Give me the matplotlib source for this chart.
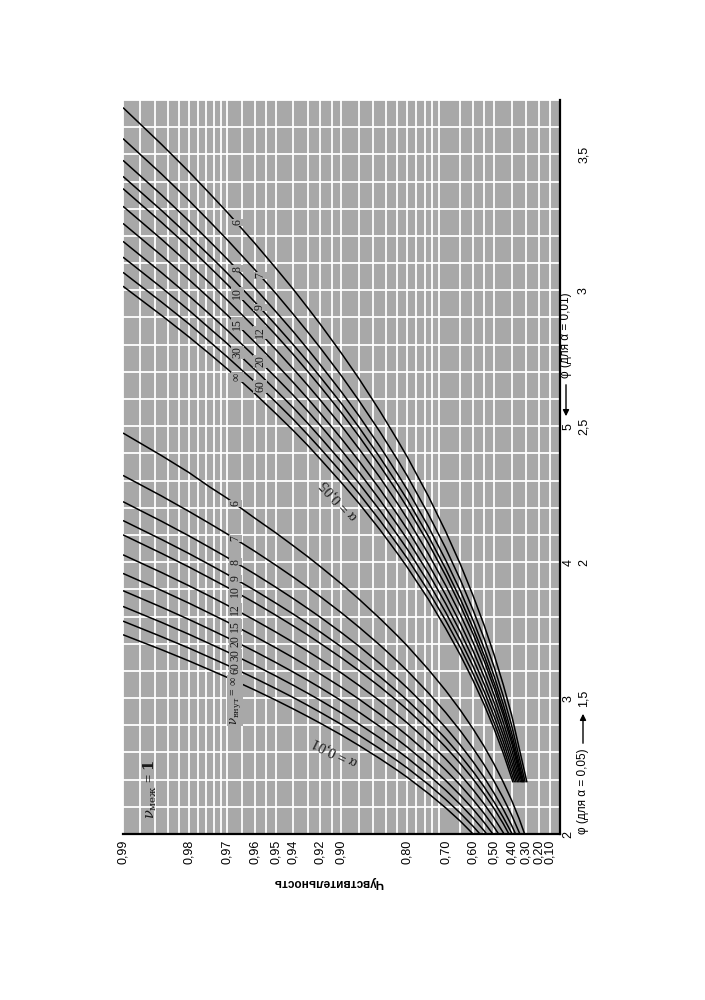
import numpy as np
import matplotlib
matplotlib.use("Agg")
import matplotlib.pyplot as plt

# ---------------- data ----------------
NU2_LABELS = ["6", "7", "8", "9", "10", "12", "15", "20", "30", "60", "∞"]

# alpha = 0.05 : phi (alpha=0.05 scale) at the given power levels
P_LEVELS_05 = [0.99, 0.985, 0.98, 0.975, 0.97, 0.96, 0.95, 0.94, 0.93, 0.92, 0.90,
               0.88, 0.85, 0.82, 0.80, 0.75, 0.70, 0.65, 0.60, 0.55, 0.50, 0.45, 0.40]
phi05_6 = [3.672, 3.537, 3.437, 3.355, 3.287, 3.174, 3.082, 3.005, 2.936, 2.875, 2.768, 2.676,
           2.555, 2.450, 2.387, 2.242, 2.112, 1.992, 1.877, 1.767, 1.658, 1.549, 1.439]
phi05_7 = [3.558, 3.428, 3.331, 3.252, 3.186, 3.077, 2.989, 2.913, 2.847, 2.788, 2.685, 2.595,
           2.479, 2.378, 2.317, 2.176, 2.051, 1.935, 1.824, 1.718, 1.613, 1.507, 1.401]
phi05_8 = [3.478, 3.351, 3.256, 3.179, 3.115, 3.009, 2.922, 2.849, 2.784, 2.726, 2.626, 2.539,
           2.425, 2.326, 2.267, 2.130, 2.007, 1.894, 1.786, 1.682, 1.580, 1.477, 1.373]
phi05_9 = [3.419, 3.294, 3.201, 3.126, 3.063, 2.958, 2.873, 2.801, 2.738, 2.681, 2.583, 2.497,
           2.385, 2.288, 2.230, 2.095, 1.975, 1.864, 1.758, 1.656, 1.555, 1.454, 1.352]
phi05_10 = [3.374, 3.250, 3.159, 3.084, 3.022, 2.919, 2.836, 2.765, 2.702, 2.646, 2.549, 2.464,
            2.354, 2.259, 2.201, 2.069, 1.950, 1.840, 1.736, 1.636, 1.536, 1.437, 1.336]
phi05_12 = [3.309, 3.188, 3.098, 3.026, 2.964, 2.864, 2.782, 2.712, 2.651, 2.596, 2.501, 2.418,
            2.311, 2.217, 2.160, 2.030, 1.914, 1.807, 1.705, 1.606, 1.509, 1.411, 1.313]
phi05_15 = [3.246, 3.128, 3.040, 2.969, 2.909, 2.810, 2.730, 2.662, 2.602, 2.548, 2.454, 2.373,
            2.268, 2.176, 2.121, 1.993, 1.879, 1.774, 1.674, 1.577, 1.482, 1.386, 1.290]
phi05_20 = [3.180, 3.065, 2.980, 2.911, 2.853, 2.757, 2.680, 2.615, 2.556, 2.503, 2.411, 2.332,
            2.228, 2.138, 2.084, 1.959, 1.847, 1.743, 1.645, 1.550, 1.457, 1.363, 1.268]
phi05_30 = [3.122, 3.010, 2.927, 2.859, 2.804, 2.709, 2.633, 2.569, 2.511, 2.459, 2.369, 2.291,
            2.190, 2.101, 2.048, 1.925, 1.815, 1.713, 1.617, 1.524, 1.432, 1.340, 1.247]
phi05_60 = [3.066, 2.957, 2.877, 2.810, 2.755, 2.664, 2.589, 2.526, 2.469, 2.418, 2.330, 2.253,
            2.153, 2.066, 2.014, 1.893, 1.785, 1.685, 1.590, 1.499, 1.408, 1.318, 1.226]
phi05_inf = [3.015, 2.908, 2.829, 2.765, 2.711, 2.621, 2.547, 2.485, 2.430, 2.379, 2.292, 2.217,
             2.119, 2.033, 1.981, 1.863, 1.756, 1.658, 1.565, 1.475, 1.386, 1.297, 1.207]
PHI05_END = 1.19
P_END_05 = [0.294, 0.307, 0.317, 0.324, 0.331, 0.340, 0.350, 0.360, 0.370, 0.381, 0.391]

# alpha = 0.01 : phi (alpha=0.01 scale) at the given power levels
P_LEVELS_01 = [0.99, 0.985, 0.98, 0.975, 0.97, 0.96, 0.95, 0.94, 0.93, 0.92, 0.90, 0.88, 0.85,
               0.82, 0.80, 0.75, 0.70, 0.65, 0.60, 0.55, 0.50, 0.45, 0.40, 0.35, 0.30]
phi01_6 = [4.950, 4.784, 4.660, 4.552, 4.470, 4.325, 4.216, 4.122, 4.041, 3.967, 3.840, 3.729, 3.585,
           3.460, 3.384, 3.210, 3.055, 2.911, 2.774, 2.643, 2.512, 2.382, 2.250, 2.113, 1.969]
phi01_7 = [4.638, 4.487, 4.374, 4.283, 4.207, 4.081, 3.978, 3.891, 3.815, 3.746, 3.627, 3.523, 3.389,
           3.272, 3.201, 3.038, 2.893, 2.759, 2.631, 2.508, 2.386, 2.264, 2.141, 2.013, 1.879]
phi01_8 = [4.445, 4.301, 4.194, 4.107, 4.034, 3.914, 3.816, 3.733, 3.660, 3.595, 3.481, 3.383, 3.254,
           3.143, 3.075, 2.920, 2.782, 2.654, 2.532, 2.415, 2.298, 2.182, 2.065, 1.943, 1.815]
phi01_9 = [4.306, 4.167, 4.064, 3.980, 3.910, 3.794, 3.699, 3.619, 3.549, 3.486, 3.376, 3.281, 3.157,
           3.049, 2.984, 2.835, 2.701, 2.577, 2.460, 2.346, 2.234, 2.122, 2.009, 1.891, 1.767]
phi01_10 = [4.201, 4.065, 3.965, 3.883, 3.815, 3.702, 3.610, 3.532, 3.464, 3.402, 3.296, 3.203, 3.083,
            2.978, 2.915, 2.769, 2.639, 2.518, 2.404, 2.294, 2.185, 2.076, 1.965, 1.851, 1.731]
phi01_12 = [4.054, 3.924, 3.827, 3.749, 3.683, 3.574, 3.486, 3.411, 3.345, 3.286, 3.184, 3.094, 2.979,
            2.878, 2.817, 2.677, 2.552, 2.436, 2.326, 2.220, 2.115, 2.010, 1.904, 1.794, 1.679]
phi01_15 = [3.917, 3.792, 3.699, 3.623, 3.560, 3.455, 3.370, 3.298, 3.234, 3.177, 3.079, 2.993, 2.881,
            2.784, 2.725, 2.590, 2.470, 2.358, 2.252, 2.150, 2.049, 1.948, 1.846, 1.740, 1.628]
phi01_20 = [3.790, 3.669, 3.579, 3.506, 3.445, 3.344, 3.262, 3.192, 3.131, 3.076, 2.980, 2.898, 2.790,
            2.696, 2.639, 2.509, 2.393, 2.285, 2.183, 2.084, 1.987, 1.889, 1.790, 1.688, 1.580]
phi01_30 = [3.674, 3.557, 3.470, 3.399, 3.340, 3.242, 3.163, 3.095, 3.036, 2.983, 2.890, 2.810, 2.706,
            2.615, 2.560, 2.434, 2.322, 2.217, 2.118, 2.023, 1.928, 1.834, 1.738, 1.639, 1.535]
phi01_60 = [3.566, 3.452, 3.368, 3.299, 3.242, 3.147, 3.070, 3.005, 2.947, 2.895, 2.806, 2.728, 2.627,
            2.539, 2.486, 2.364, 2.254, 2.153, 2.057, 1.965, 1.873, 1.781, 1.689, 1.593, 1.492]
phi01_inf = [3.466, 3.356, 3.274, 3.207, 3.152, 3.060, 2.985, 2.921, 2.865, 2.815, 2.728, 2.652, 2.554,
             2.469, 2.417, 2.298, 2.192, 2.094, 2.000, 1.911, 1.822, 1.732, 1.643, 1.549, 1.451]

PHI05_CURVES = [phi05_6, phi05_7, phi05_8, phi05_9, phi05_10, phi05_12,
                phi05_15, phi05_20, phi05_30, phi05_60, phi05_inf]
PHI01_CURVES = [phi01_6, phi01_7, phi01_8, phi01_9, phi01_10, phi01_12,
                phi01_15, phi01_20, phi01_30, phi01_60, phi01_inf]

# axis ticks
TICK_P = [0.99, 0.98, 0.97, 0.96, 0.95, 0.94, 0.92, 0.90, 0.80, 0.70,
          0.60, 0.50, 0.40, 0.30, 0.20, 0.10]
TICK_P_LABELS = ["0,99", "0,98", "0,97", "0,96", "0,95", "0,94", "0,92", "0,90",
                 "0,80", "0,70", "0,60", "0,50", "0,40", "0,30", "0,20", "0,10"]
PHI05_TICKS = [1.5, 2.0, 2.5, 3.0, 3.5]
PHI05_TICK_LABELS = ["1,5", "2", "2,5", "3", "3,5"]
PHI01_TICKS = [2, 3, 4, 5]
PHI01_TICK_LABELS = ["2", "3", "4", "5"]
GRID_P = [0.99, 0.988, 0.986, 0.984, 0.982, 0.98, 0.978, 0.976, 0.974, 0.972,
          0.97, 0.965, 0.96, 0.955, 0.95, 0.94, 0.93, 0.92, 0.91, 0.90,
          0.88, 0.86, 0.84, 0.82, 0.80, 0.78, 0.76, 0.74, 0.72,
          0.65, 0.60, 0.55, 0.50, 0.40, 0.30, 0.20, 0.10]

# ---------------- style ----------------
SANS = ["Liberation Sans", "DejaVu Sans"]
SERIF = ["Liberation Serif", "DejaVu Serif"]
BG = "#a8a8a8"
plt.rcParams["font.family"] = SANS
plt.rcParams["mathtext.fontset"] = "dejavuserif"

fig = plt.figure(figsize=(7.05, 10.0), dpi=100)
fig.patch.set_facecolor("white")
ax = fig.add_axes([123 / 705, 166 / 1000, 437 / 705, 734 / 1000])


def fwd(p):
    p = np.asarray(p, dtype=float)
    return -np.log10(np.clip(1.0 - p, 1e-9, None))


def inv(u):
    return 1.0 - 10.0 ** (-np.asarray(u, dtype=float))


ax.set_xscale("function", functions=(fwd, inv))
ax.set_xlim(0.99, 0.0)
ax.set_ylim(1.0, 3.7)
ax.set_facecolor(BG)

grid_phi = np.round(np.arange(1.0, 3.701, 0.1), 2)
ax.vlines(GRID_P, 1.0, 3.7, colors="white", lw=1.3, zorder=1, clip_on=False)
ax.hlines(grid_phi, 0.0, 0.99, colors="white", lw=1.3, zorder=1, clip_on=False)

for s in ["left", "top"]:
    ax.spines[s].set_visible(False)
for s in ["bottom", "right"]:
    ax.spines[s].set_color("black")
    ax.spines[s].set_linewidth(1.6)
    ax.spines[s].set_zorder(6)

# alpha = 0.05 curves
for phi, pend in zip(PHI05_CURVES, P_END_05):
    ax.plot(P_LEVELS_05 + [pend], phi + [PHI05_END], color="black", lw=1.1,
            zorder=3, solid_capstyle="butt", solid_joinstyle="round")

ax2 = ax.twinx()
ax2.set_ylim(2.0, 7.4)
for s in ax2.spines.values():
    s.set_visible(False)
for phi in PHI01_CURVES:
    ax2.plot(P_LEVELS_01, phi, color="black", lw=1.1, zorder=3,
             solid_capstyle="butt", solid_joinstyle="round")


def label_curve(axis, p_levels, phi, p_lab, text, fs=8.5, dy=0.0, va="center"):
    ps = np.array(p_levels)[::-1]
    ys = np.array(phi)[::-1]
    y = np.interp(p_lab, ps, ys)
    axis.annotate(text, xy=(p_lab, y), xytext=(0, dy), textcoords="offset points",
                  rotation=90, ha="center", va=va, fontsize=fs, family=SERIF,
                  color="#1a1a1a", zorder=5,
                  bbox=dict(boxstyle="square,pad=0.05", fc=BG, ec="none"))


# labels alpha = 0.05
upper = ["6", "8", "10", "15", "30", "∞"]
for lab, phi in zip(NU2_LABELS, PHI05_CURVES):
    p_lab = 0.9667 if lab in upper else 0.9576
    label_curve(ax, P_LEVELS_05, phi, p_lab, lab)

# labels alpha = 0.01
for lab, phi in zip(NU2_LABELS, PHI01_CURVES):
    if lab == "∞":
        label_curve(ax2, P_LEVELS_01, phi, 0.9674,
                    r"$\nu_{\mathrm{внут}}$ = ∞", dy=3.5, va="top")
    else:
        label_curve(ax2, P_LEVELS_01, phi, 0.9674, lab)

# alpha labels along the curves
ax.text(0.9025, 2.228, "α = 0,05", rotation=131.5, ha="center", va="center",
        rotation_mode="anchor", fontsize=10.5, family=SERIF, color="#1a1a1a", zorder=5)
ax.text(0.9067, 1.301, "α = 0,01", rotation=153.5, ha="center", va="center",
        rotation_mode="anchor", fontsize=10.5, family=SERIF, color="#1a1a1a", zorder=5)

ax.text(0.062, 0.060, r"$\nu_{\mathrm{меж}}$ = $\mathbf{1}$", transform=ax.transAxes,
        rotation=90, ha="center", va="center", fontsize=10.5, family=SERIF,
        color="#1a1a1a", zorder=5)

# x ticks (power)
ax.minorticks_off()
ax.set_xticks(TICK_P)
ax.set_xticklabels(TICK_P_LABELS, rotation=90, fontsize=9)
ax.tick_params(axis="x", length=0, pad=4)

# y ticks (phi scales on the right)
ax.yaxis.tick_right()
ax.set_yticks(PHI05_TICKS)
ax.set_yticklabels(PHI05_TICK_LABELS, rotation=90, fontsize=9)
ax.tick_params(axis="y", length=0, pad=13, left=False, labelleft=False,
               right=True, labelright=True)
ax2.minorticks_off()
ax2.set_yticks(PHI01_TICKS)
ax2.set_yticklabels(PHI01_TICK_LABELS, rotation=90, fontsize=9)
ax2.tick_params(axis="y", length=0, pad=2)
for lbl in ax.get_yticklabels() + ax2.get_yticklabels():
    lbl.set_va("center")

# axis captions
x05 = (583 - 123) / 437
x01 = (566 - 123) / 437
ax.text(x05, 0.0, "φ (для α = 0,05)", transform=ax.transAxes, rotation=90,
        ha="center", va="bottom", fontsize=8.5, clip_on=False)
ax.annotate("", xy=(x05, (834 - 711) / 734), xytext=(x05, (834 - 746) / 734),
            xycoords="axes fraction",
            arrowprops=dict(arrowstyle="-|>", color="black", lw=1.0, mutation_scale=9))
ax.text(x01, (834 - 378) / 734, "φ (для α = 0,01)", transform=ax.transAxes,
        rotation=90, ha="center", va="bottom", fontsize=8.5, clip_on=False)
ax.annotate("", xy=(x01, (834 - 419) / 734), xytext=(x01, (834 - 382) / 734),
            xycoords="axes fraction",
            arrowprops=dict(arrowstyle="-|>", color="black", lw=1.0, mutation_scale=9))

fig.text(328 / 705, 1 - 882 / 1000, "Чувствительность", rotation=180, ha="center",
         va="center", fontsize=8.5, fontweight="bold")

fig.savefig("out.png", dpi=100)
